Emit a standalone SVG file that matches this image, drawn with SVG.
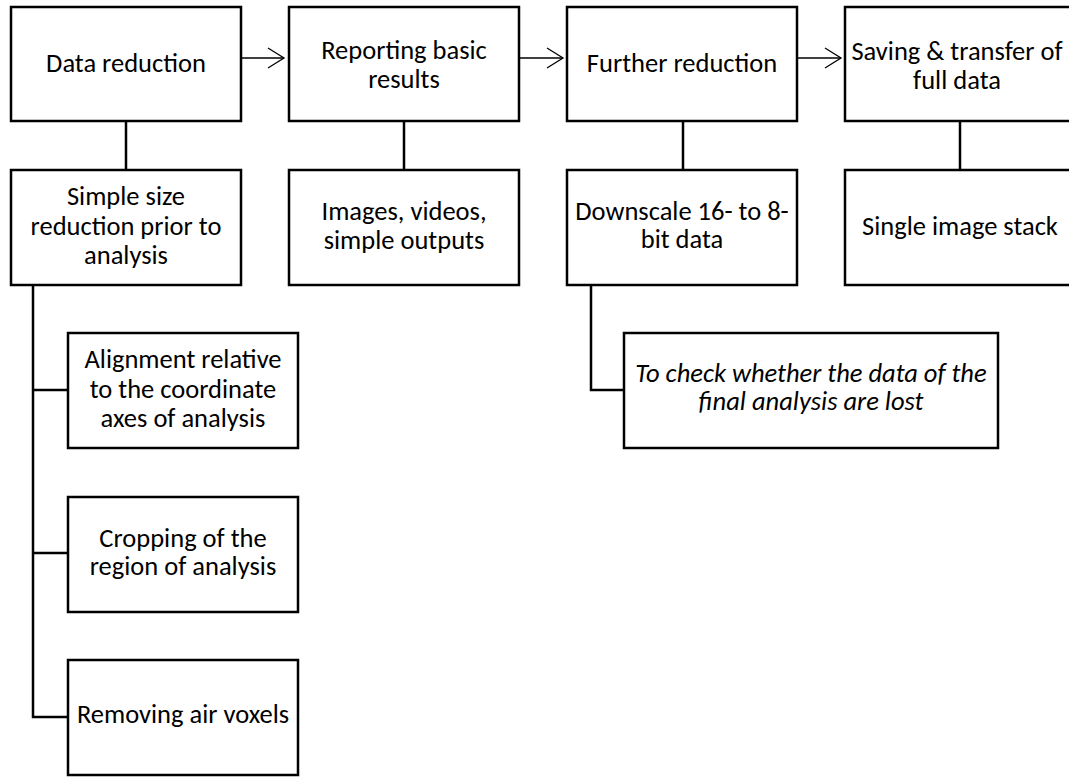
<svg xmlns="http://www.w3.org/2000/svg" width="1069" height="777" viewBox="0 0 1069 777">
<defs>
<style>
.box{fill:#fff;stroke:#000;stroke-width:2.5}
.t{font-family:"Carlito","Open Sans","Liberation Sans",sans-serif;font-size:26.5px;fill:#000;text-anchor:middle}
.i{font-style:italic}
.c{fill:none;stroke:#000;stroke-width:2.5}
.a{fill:none;stroke:#000;stroke-width:1.3}
</style>
<marker id="arr" markerUnits="userSpaceOnUse" markerWidth="20" markerHeight="24" refX="17" refY="11" orient="auto">
<path d="M1,1 L17,11 L1,21" fill="none" stroke="#000" stroke-width="1.3"/>
</marker>
</defs>
<rect width="1069" height="777" fill="#fff"/>
<g id="connectors">
<line class="a" x1="241" y1="58" x2="284" y2="58" marker-end="url(#arr)"/>
<line class="a" x1="517" y1="58" x2="563" y2="58" marker-end="url(#arr)"/>
<line class="a" x1="797" y1="58" x2="841" y2="58" marker-end="url(#arr)"/>
<line class="c" x1="126" y1="121" x2="126" y2="170"/>
<line class="c" x1="404" y1="121" x2="404" y2="170"/>
<line class="c" x1="683" y1="121" x2="683" y2="170"/>
<line class="c" x1="960" y1="121" x2="960" y2="170"/>
<path class="c" d="M33,285 V717 H68 M33,390 H68 M33,553 H68"/>
<path class="c" d="M591,285 V390 H624"/>
</g>
<g id="n1"><rect class="box" x="11" y="7" width="230" height="114"/><text class="t" x="126" y="72">Data reduction</text></g>
<g id="n2"><rect class="box" x="289" y="7" width="230" height="114"/><text class="t" x="404" y="59">Reporting basic</text><text class="t" x="404" y="88">results</text></g>
<g id="n3"><rect class="box" x="567" y="7" width="230" height="114"/><text class="t" x="682" y="72">Further reduction</text></g>
<g id="n4"><rect class="box" x="845" y="7" width="230" height="114"/><text class="t" x="957" y="60">Saving &amp; transfer of</text><text class="t" x="957" y="89">full data</text></g>
<g id="n5"><rect class="box" x="11" y="170" width="230" height="115"/><text class="t" x="126" y="205">Simple size</text><text class="t" x="126" y="235">reduction prior to</text><text class="t" x="126" y="264">analysis</text></g>
<g id="n6"><rect class="box" x="289" y="170" width="230" height="115"/><text class="t" x="404" y="220">Images, videos,</text><text class="t" x="404" y="249">simple outputs</text></g>
<g id="n7"><rect class="box" x="567" y="170" width="230" height="115"/><text class="t" x="682" y="220">Downscale 16- to 8-</text><text class="t" x="682" y="248">bit data</text></g>
<g id="n8"><rect class="box" x="845" y="170" width="230" height="115"/><text class="t" x="960" y="235">Single image stack</text></g>
<g id="n9"><rect class="box" x="624" y="333" width="374" height="115"/><text class="t i" x="811" y="382">To check whether the data of the</text><text class="t i" x="811" y="410">final analysis are lost</text></g>
<g id="n10"><rect class="box" x="68" y="333" width="230" height="115"/><text class="t" x="183" y="368">Alignment relative</text><text class="t" x="183" y="398">to the coordinate</text><text class="t" x="183" y="427">axes of analysis</text></g>
<g id="n11"><rect class="box" x="68" y="497" width="230" height="115"/><text class="t" x="183" y="547">Cropping of the</text><text class="t" x="183" y="575">region of analysis</text></g>
<g id="n12"><rect class="box" x="68" y="660" width="230" height="115"/><text class="t" x="183" y="723">Removing air voxels</text></g>
</svg>
